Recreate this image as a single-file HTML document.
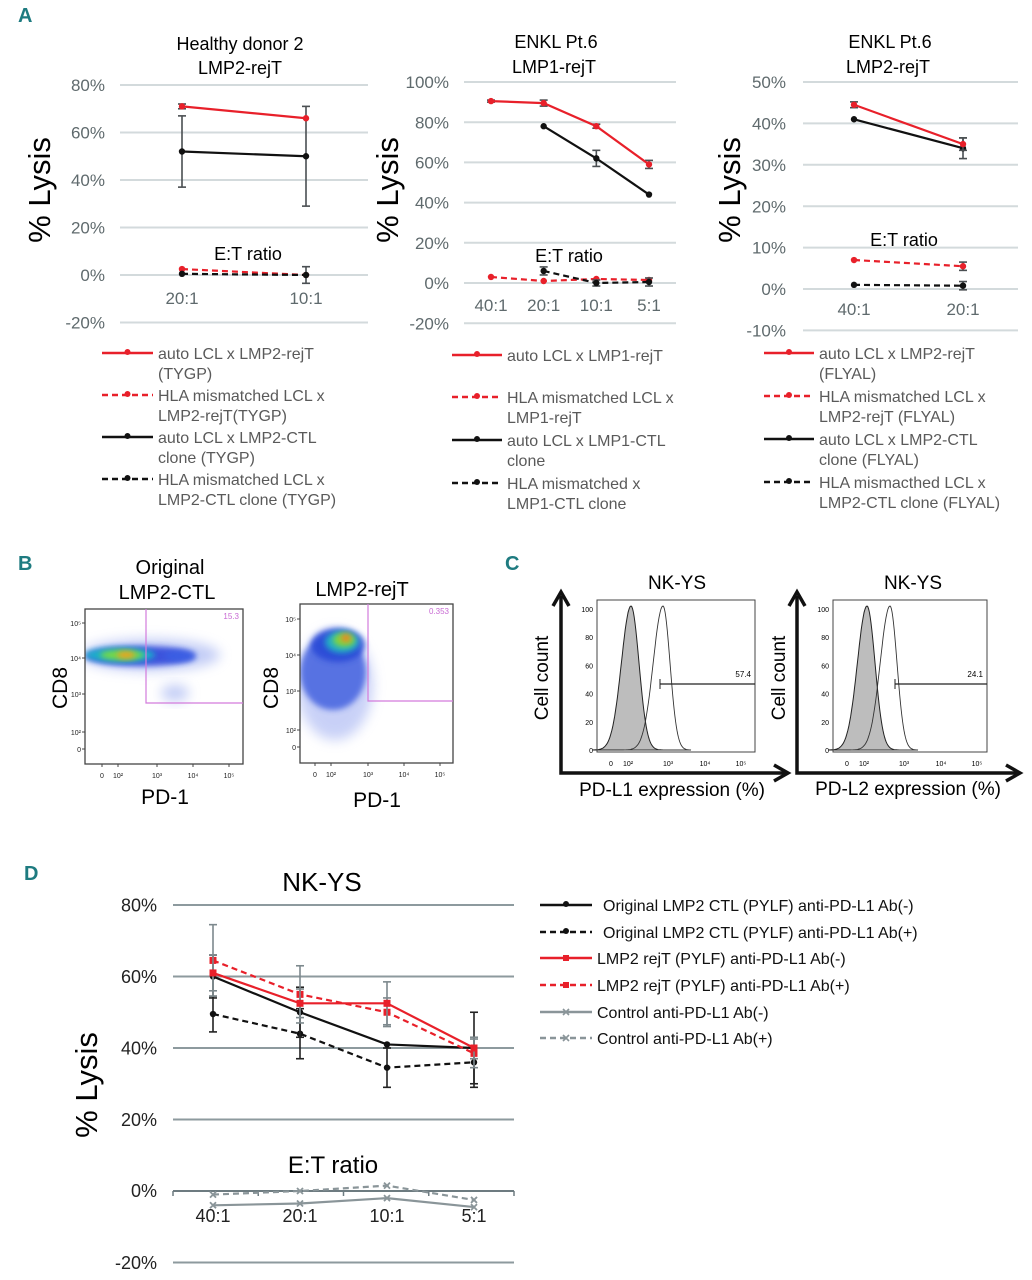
<!DOCTYPE html>
<html><head><meta charset="utf-8"><style>
html,body{margin:0;padding:0;background:#fff;}
svg{display:block;font-family:"Liberation Sans",sans-serif;}
</style></head><body>
<svg id="fig" width="1032" height="1280" viewBox="0 0 1032 1280" xmlns="http://www.w3.org/2000/svg">
<defs>
<filter id="blur3" x="-50%" y="-50%" width="200%" height="200%"><feGaussianBlur stdDeviation="3"/></filter>
<filter id="blur6" x="-50%" y="-50%" width="200%" height="200%"><feGaussianBlur stdDeviation="6"/></filter>
</defs>
<g id="root"></g>
</svg>
<script>
// ---------- Panel A chart 1 ----------
const a1Cats = ["20:1","10:1"];
const a1RedSolid = [71,66];
const a1RedSolidErr = [1,0];
const a1RedDash = [2.5,0];
const a1BlackSolid = [52,50];
const a1BlackSolidErr = [15,21];
const a1BlackDash = [0.5,0];
const a1BlackDashErr = [0,3.5];
const a1Ticks = [80,60,40,20,0,-20];
// ---------- Panel A chart 2 ----------
const a2Cats = ["40:1","20:1","10:1","5:1"];
const a2RedSolid = [90.5,89.5,78,59];
const a2RedSolidErr = [0.5,1.5,1,2];
const a2RedDash = [3,1,2,1.5];
const a2BlackSolid = [null,78,62,44];
const a2BlackSolidErr = [0,0,4,0];
const a2BlackDash = [null,6,0,0.5];
const a2BlackDashErr = [0,2,1.5,2];
const a2Ticks = [100,80,60,40,20,0,-20];
// ---------- Panel A chart 3 ----------
const a3Cats = ["40:1","20:1"];
const a3RedSolid = [44.5,35];
const a3RedSolidErr = [0.7,1.5];
const a3RedDash = [7,5.5];
const a3RedDashErr = [0,1];
const a3BlackSolid = [41,34];
const a3BlackSolidErr = [0,2.5];
const a3BlackDash = [1,0.8];
const a3BlackDashErr = [0,1];
const a3Ticks = [50,40,30,20,10,0,-10];
// ---------- Panel D ----------
const dCats = ["40:1","20:1","10:1","5:1"];
const dOrigNeg = [60,50,41,40];
const dOrigNegErr = [6,7,0,10];
const dOrigPos = [49.5,44,34.5,36];
const dOrigPosErr = [5,7,5.5,7];
const dRejNeg = [61,52.5,52.5,40];
const dRejNegErr = [5,4,6,3];
const dRejPos = [64.5,55,50,38.5];
const dRejPosErr = [10,8,4,4];
const dCtrlNeg = [-4,-3.5,-2,-4.5];
const dCtrlPos = [-1,0,1.5,-2.5];
const dTicks = [80,60,40,20,0,-20];

const NS="http://www.w3.org/2000/svg";
const root=document.getElementById('root');
function mk(tag,attrs,parent,text){const e=document.createElementNS(NS,tag);for(const k in attrs)e.setAttribute(k,attrs[k]);if(text!==undefined)e.textContent=text;(parent||root).appendChild(e);return e;}

function lineChart(cfg){
  const g=mk('g',{});
  
  
  const y=v=>cfg.y0+(v-cfg.v0)*(cfg.y1-cfg.y0)/(cfg.v1-cfg.v0);
  const x=i=>cfg.xs+i*(cfg.xe-cfg.xs)/(cfg.cats.length-1);
  cfg.ticks.forEach(t=>{
    const l=mk('line',{x1:cfg.gx0,x2:cfg.gx1,y1:y(t),y2:y(t),stroke:cfg.gridColor,'stroke-width':cfg.gridW},g);
    
    
    const tx=mk('text',{x:cfg.labX,y:y(t)+cfg.tickFs*0.36,'text-anchor':'end','font-size':cfg.tickFs,fill:cfg.tickColor},g,t+'%');
    
    
  });
  if(cfg.zeroAxis){
    mk('line',{x1:cfg.gx0,x2:cfg.gx1,y1:y(0),y2:y(0),stroke:'#6d7b80','stroke-width':2},g);
    for(let i=0;i<=cfg.cats.length;i++){const xx=cfg.gx0+i*(cfg.gx1-cfg.gx0)/cfg.cats.length;mk('line',{x1:xx,x2:xx,y1:y(0),y2:y(0)+5,stroke:'#6d7b80','stroke-width':1.5},g);}
  }
  cfg.cats.forEach((c,i)=>{
    const tx=mk('text',{x:x(i),y:cfg.catY,'text-anchor':'middle','font-size':cfg.tickFs,fill:cfg.catColor||cfg.tickColor},g,c);
    
    
  });
  cfg.series.forEach(s=>{
    const pts=[];s.vals.forEach((v,i)=>{if(v!==null)pts.push([x(i),y(v)]);});
    const sg=mk('g',{},g);
    
    
    if(s.err){s.vals.forEach((v,i)=>{if(v===null||!s.err[i])return;const e=s.err[i];const xx=x(i);
      mk('line',{x1:xx,x2:xx,y1:y(v-e),y2:y(v+e),stroke:s.errColor||'#4a4f52','stroke-width':1.6},sg);
      mk('line',{x1:xx-4,x2:xx+4,y1:y(v-e),y2:y(v-e),stroke:s.errColor||'#4a4f52','stroke-width':1.6},sg);
      mk('line',{x1:xx-4,x2:xx+4,y1:y(v+e),y2:y(v+e),stroke:s.errColor||'#4a4f52','stroke-width':1.6},sg);});}
    mk('polyline',{points:pts.map(p=>p.join(',')).join(' '),fill:'none',stroke:s.color,'stroke-width':s.w||2.2,'stroke-dasharray':s.dash?'6,4':'none'},sg);
    pts.forEach(p=>{
      if(s.marker==='x'){mk('path',{d:`M${p[0]-3},${p[1]-3}L${p[0]+3},${p[1]+3}M${p[0]+3},${p[1]-3}L${p[0]-3},${p[1]+3}`,stroke:s.color,'stroke-width':1.8},sg);}
      else if(s.marker==='sq'){mk('rect',{x:p[0]-3.5,y:p[1]-3.5,width:7,height:7,fill:s.color},sg);}
      else mk('circle',{cx:p[0],cy:p[1],r:3.2,fill:s.color},sg);
    });
  });
  return g;
}
function txt(x,y,s,fs,attrs,name){const a=Object.assign({x:x,y:y,'font-size':fs,fill:'#000','text-anchor':'middle'},attrs||{});const t=mk('text',a,root,s);return t;}
function vtxt(x,y,s,fs,name){const t=mk('text',{x:0,y:0,'font-size':fs,'text-anchor':'middle',transform:`translate(${x},${y}) rotate(-90)`},root,s);return t;}
function legend(x0,x1,tx,rows,fs,color,name){
  const g=mk('g',{});
  rows.forEach(r=>{
    const e=mk('g',{},g);
    mk('line',{x1:x0,x2:x1,y1:r.y,y2:r.y,stroke:r.color,'stroke-width':2.4,'stroke-dasharray':r.dash?'6,4':'none'},e);
    const mx=(x0+x1)/2;
    if(r.marker==='x')mk('path',{d:`M${mx-3},${r.y-3}L${mx+3},${r.y+3}M${mx+3},${r.y-3}L${mx-3},${r.y+3}`,stroke:r.color,'stroke-width':1.6},e);
    else if(r.marker==='sq')mk('rect',{x:mx-3,y:r.y-3,width:6,height:6,fill:r.color},e);
    else mk('circle',{cx:mx,cy:r.y-1,r:3,fill:r.color},e);
    r.lines.forEach((l,j)=>mk('text',{x:r.tx||tx,y:r.y+6+j*20,'font-size':fs,fill:color},e,l));
  });
}
const RED='#e8202a', BLK='#111';
const teal='#1e7b80';
// panel letters
[['A',18,22],['B',18,570],['C',505,570],['D',24,880]].forEach(p=>{const t=mk('text',{x:p[1],y:p[2],'font-size':20,'font-weight':'bold',fill:teal,'font-family':'"Liberation Sans Narrow","Liberation Sans",sans-serif'},root,p[0]);});

// ---- A1 ----
lineChart({name:'chart-a1',cats:a1Cats,xs:182,xe:306,y0:275,v0:0,y1:85,v1:80,ticks:a1Ticks,gx0:120,gx1:368,gridColor:'#d3dadc',gridW:2,labX:105,tickFs:17,tickColor:'#5f6a6d',catY:304,
 series:[{name:'series-red-dashed',vals:a1RedDash,color:RED,dash:true},{name:'series-black-dashed',vals:a1BlackDash,color:BLK,dash:true,err:a1BlackDashErr},
 {name:'series-black-solid',vals:a1BlackSolid,color:BLK,err:a1BlackSolidErr},{name:'series-red-solid',vals:a1RedSolid,color:RED,err:a1RedSolidErr}]});
txt(240,50,'Healthy donor 2',18,{},'chart-a1-title');txt(240,74,'LMP2-rejT',18,{},'chart-a1-subtitle');
vtxt(50,190,'% Lysis',31,'y-axis-title');txt(248,260,'E:T ratio',18,{},'x-axis-title');
// ---- A2 ----
lineChart({name:'chart-a2',cats:a2Cats,xs:491,xe:649,y0:283,v0:0,y1:82,v1:100,ticks:a2Ticks,gx0:464,gx1:676,gridColor:'#d3dadc',gridW:2,labX:449,tickFs:17,tickColor:'#5f6a6d',catY:311,
 series:[{name:'series-red-dashed',vals:a2RedDash,color:RED,dash:true},{name:'series-black-dashed',vals:a2BlackDash,color:BLK,dash:true,err:a2BlackDashErr},
 {name:'series-black-solid',vals:a2BlackSolid,color:BLK,err:a2BlackSolidErr},{name:'series-red-solid',vals:a2RedSolid,color:RED,err:a2RedSolidErr}]});
txt(556,48,'ENKL Pt.6',18,{},'chart-a2-title');txt(554,73,'LMP1-rejT',18,{},'chart-a2-subtitle');
vtxt(398,190,'% Lysis',31,'y-axis-title');txt(569,262,'E:T ratio',18,{},'x-axis-title');
// ---- A3 ----
lineChart({name:'chart-a3',cats:a3Cats,xs:854,xe:963,y0:289,v0:0,y1:82,v1:50,ticks:a3Ticks,gx0:803,gx1:1018,gridColor:'#d3dadc',gridW:2,labX:786,tickFs:17,tickColor:'#5f6a6d',catY:315,
 series:[{name:'series-red-dashed',vals:a3RedDash,color:RED,dash:true,err:a3RedDashErr},{name:'series-black-dashed',vals:a3BlackDash,color:BLK,dash:true,err:a3BlackDashErr},
 {name:'series-black-solid',vals:a3BlackSolid,color:BLK,err:a3BlackSolidErr},{name:'series-red-solid',vals:a3RedSolid,color:RED,err:a3RedSolidErr}]});
txt(890,48,'ENKL Pt.6',18,{},'chart-a3-title');txt(888,73,'LMP2-rejT',18,{},'chart-a3-subtitle');
vtxt(740,190,'% Lysis',31,'y-axis-title');txt(904,246,'E:T ratio',18,{},'x-axis-title');

// legends A
legend(102,153,158,[{y:353,color:RED,lines:['auto LCL x LMP2-rejT','(TYGP)']},{y:395,color:RED,dash:true,lines:['HLA mismatched LCL  x','LMP2-rejT(TYGP)']},
 {y:437,color:BLK,lines:['auto LCL x LMP2-CTL','clone (TYGP)']},{y:479,color:BLK,dash:true,lines:['HLA mismatched LCL x','LMP2-CTL clone (TYGP)']}],16,'#5a5a5a','legend-a1');
legend(452,502,507,[{y:355,color:RED,lines:['auto LCL x LMP1-rejT']},{y:397,color:RED,dash:true,lines:['HLA mismatched LCL x','LMP1-rejT']},
 {y:440,color:BLK,lines:['auto LCL x LMP1-CTL','clone']},{y:483,color:BLK,dash:true,lines:['HLA mismatched x','LMP1-CTL clone']}],16,'#5a5a5a','legend-a2');
legend(764,814,819,[{y:353,color:RED,lines:['auto LCL x LMP2-rejT','(FLYAL)']},{y:396,color:RED,dash:true,lines:['HLA mismatched LCL x','LMP2-rejT (FLYAL)']},
 {y:439,color:BLK,lines:['auto LCL x LMP2-CTL','clone (FLYAL)']},{y:482,color:BLK,dash:true,lines:['HLA mismacthed LCL x','LMP2-CTL clone (FLYAL)']}],16,'#5a5a5a','legend-a3');

// ---- Panel B flow plots ----
function flow(bx0,by0,bx1,by1,yt,xt,gateX,gateY,pct,blobs,name){
  const g=mk('g',{});
  const cl=mk('clipPath',{id:'c'+name},g);mk('rect',{x:bx0,y:by0,width:bx1-bx0,height:by1-by0},cl);
  const bg=mk('g',{'clip-path':`url(#c${name})`},g);
  blobs.forEach(b=>mk('ellipse',{cx:b[0],cy:b[1],rx:b[2],ry:b[3],fill:b[4],opacity:b[5],filter:b[6]||'url(#blur3)'},bg));
  mk('rect',{x:bx0,y:by0,width:bx1-bx0,height:by1-by0,fill:'none',stroke:'#444','stroke-width':1.3},g);
  mk('polyline',{points:`${gateX},${by0} ${gateX},${gateY} ${bx1},${gateY}`,fill:'none',stroke:'#d37bdc','stroke-width':1.2},g);
  mk('text',{x:bx1-4,y:by0+10,'font-size':8,fill:'#c86ad3','text-anchor':'end'},g,pct);
  yt.forEach(t=>{mk('text',{x:bx0-4,y:t[0]+3,'font-size':7,'text-anchor':'end',fill:'#222'},g,t[1]);mk('line',{x1:bx0-3,x2:bx0,y1:t[0],y2:t[0],stroke:'#444'},g);});
  xt.forEach(t=>{mk('text',{x:t[0],y:by1+14,'font-size':7,'text-anchor':'middle',fill:'#222'},g,t[1]);mk('line',{x1:t[0],x2:t[0],y1:by1,y2:by1+3,stroke:'#444'},g);});
}
flow(85,609,243,764,[[623,'10⁵'],[658,'10⁴'],[694,'10³'],[732,'10²'],[749,'0']],[[102,'0'],[118,'10²'],[157,'10³'],[193,'10⁴'],[229,'10⁵']],146,703,'15.3',
 [[150,655,70,16,'#9aaaf0',0.6,'url(#blur6)'],[140,656,55,10,'#2740d8',0.85],[120,655,35,7,'#16b9c9',0.9],[122,655,22,5,'#7ddc3c',0.95],[126,655,9,3.5,'#ff9a1e',0.9],[180,656,16,6,'#3b62e6',0.7],[175,693,14,8,'#8da0ee',0.55,'url(#blur6)']],'flow-original-lmp2-ctl');
flow(300,604,453,763,[[619,'10⁵'],[655,'10⁴'],[691,'10³'],[730,'10²'],[747,'0']],[[315,'0'],[331,'10²'],[368,'10³'],[404,'10⁴'],[440,'10⁵']],368,701,'0.353',
 [[335,685,38,55,'#a4b2f2',0.6,'url(#blur6)'],[333,672,33,38,'#3352dc',0.75],[338,645,27,17,'#2746d6',0.85],[342,642,17,11,'#21b8c4',0.9],[344,640,11,7,'#85d83a',0.95],[346,638,5,4,'#ff7a1e',0.9]],'flow-lmp2-rejt');
txt(170,574,'Original',20,{},'flow1-title');txt(167,599,'LMP2-CTL',20,{},'flow1-subtitle');txt(362,596,'LMP2-rejT',20,{},'flow2-title');
vtxt(67,688,'CD8',21,'flow1-y-title');vtxt(278,688,'CD8',21,'flow2-y-title');
txt(165,804,'PD-1',21,{},'flow1-x-title');txt(377,807,'PD-1',21,{},'flow2-x-title');

// ---- Panel C histograms ----
function hist(bx0,by0,bx1,by1,ax,ay,axEnd,fillC,openC,gx0,label,name,xlab){
  const g=mk('g',{});
  const h=by1-by0-8;const base=by1-2;
  function peak(c,w,sk){let d=`M${c-4*w},${base}`;for(let i=-40;i<=40;i++){const u=i/10;const ww=u<0?w*sk:w;const xx=c+u*ww;const yy=base-h*Math.exp(-u*u/2);d+=`L${xx.toFixed(1)},${yy.toFixed(1)}`;}return d+`L${c+4*w},${base}Z`;}
  mk('path',{d:peak(fillC,8,1.2),fill:'#bdbdbd',stroke:'#222','stroke-width':1},g);
  mk('path',{d:peak(openC,7,1.4),fill:'none',stroke:'#333','stroke-width':0.9},g);
  mk('rect',{x:bx0,y:by0,width:bx1-bx0,height:by1-by0,fill:'none',stroke:'#444','stroke-width':1},g);
  [[100,0],[80,1],[60,2],[40,3],[20,4],[0,5]].forEach(t=>{const yy=by0+9+t[1]*(base-by0-9)/5;mk('text',{x:bx0-4,y:yy+3,'font-size':7,'text-anchor':'end'},g,t[0]);});
  [[14,'0'],[31,'10²'],[71,'10³'],[108,'10⁴'],[144,'10⁵']].forEach(t=>mk('text',{x:bx0+t[0],y:by1+14,'font-size':7,'text-anchor':'middle'},g,t[1]));
  mk('line',{x1:gx0,x2:bx1,y1:684,y2:684,stroke:'#222','stroke-width':1.3},g);
  mk('line',{x1:gx0,x2:gx0,y1:679,y2:689,stroke:'#222'},g);
  mk('text',{x:bx1-4,y:677,'font-size':8,'text-anchor':'end'},g,label);
  mk('polyline',{points:`${ax},${by0-4} ${ax},${ay} ${axEnd},${ay}`,fill:'none',stroke:'#111','stroke-width':3.5},g);
  mk('path',{d:`M${ax-8},${by0+6}L${ax},${by0-8}L${ax+8},${by0+6}`,fill:'none',stroke:'#111','stroke-width':3.5},g);
  mk('path',{d:`M${axEnd-12},${ay-8}L${axEnd+2},${ay}L${axEnd-12},${ay+8}`,fill:'none',stroke:'#111','stroke-width':3.5},g);
}
hist(597,600,755,752,561,773,786,631,663,660,'57.4','histogram-pd-l1');
hist(833,600,987,752,797,773,1018,867,890,895,'24.1','histogram-pd-l2');
txt(677,589,'NK-YS',19,{},'hist1-title');txt(913,589,'NK-YS',19,{},'hist2-title');
vtxt(548,678,'Cell count',19,'hist1-y-title');vtxt(785,678,'Cell count',19,'hist2-y-title');
txt(672,796,'PD-L1 expression (%)',19,{},'hist1-x-title');txt(908,795,'PD-L2 expression (%)',19,{},'hist2-x-title');

// ---- Panel D ----
const GRY='#8a9599';
lineChart({name:'chart-d',cats:dCats,xs:213,xe:474,y0:1191,v0:0,y1:905,v1:80,ticks:dTicks.filter(t=>t!==0),gx0:173,gx1:514,gridColor:'#8d9a9e',gridW:2,labX:157,tickFs:18,tickColor:'#222',catY:1222,catColor:'#222',zeroAxis:true,
 series:[{name:'series-control-pos',vals:dCtrlPos,color:GRY,dash:true,marker:'x'},{name:'series-control-neg',vals:dCtrlNeg,color:GRY,marker:'x'},
 {name:'series-orig-pos',vals:dOrigPos,color:BLK,dash:true,err:dOrigPosErr,errColor:'#222'},{name:'series-orig-neg',vals:dOrigNeg,color:BLK,err:dOrigNegErr,errColor:'#222'},
 {name:'series-rejt-pos',vals:dRejPos,color:RED,dash:true,marker:'sq',err:dRejPosErr,errColor:'#7d898d'},{name:'series-rejt-neg',vals:dRejNeg,color:RED,marker:'sq',err:dRejNegErr,errColor:'#7d898d'}]});
mk('text',{x:157,y:1197,'font-size':18,'text-anchor':'end',fill:'#222'},root,'0%');
txt(322,891,'NK-YS',26,{},'chart-d-title');vtxt(97,1085,'% Lysis',31,'y-axis-title');txt(333,1173,'E:T ratio',24,{},'x-axis-title');
legend(540,592,603,[{y:905,color:BLK,lines:['Original LMP2 CTL    (PYLF) anti-PD-L1 Ab(-)']},{y:932,color:BLK,dash:true,lines:['Original LMP2 CTL    (PYLF) anti-PD-L1 Ab(+)']},
 {y:958,color:RED,marker:'sq',tx:597,lines:['LMP2 rejT    (PYLF) anti-PD-L1 Ab(-)']},{y:985,color:RED,dash:true,marker:'sq',tx:597,lines:['LMP2 rejT    (PYLF) anti-PD-L1 Ab(+)']},
 {y:1012,color:GRY,marker:'x',tx:597,lines:['Control   anti-PD-L1 Ab(-)']},{y:1038,color:GRY,dash:true,marker:'x',tx:597,lines:['Control   anti-PD-L1 Ab(+)']}],16,'#111','legend-d');
</script>
</body></html>
